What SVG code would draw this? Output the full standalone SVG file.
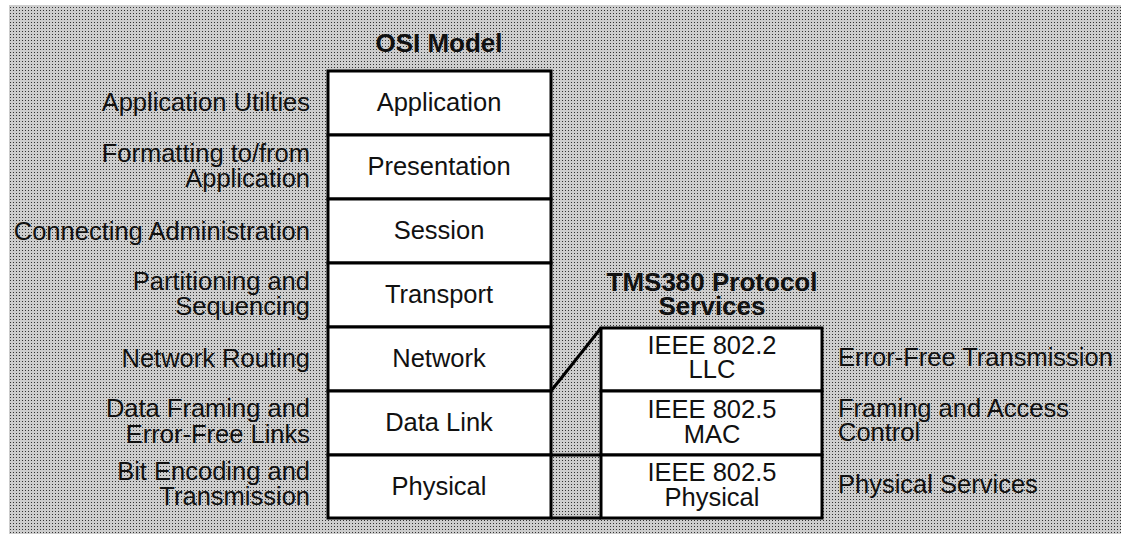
<svg xmlns="http://www.w3.org/2000/svg" width="1128" height="537" viewBox="0 0 1128 537">
<defs>
<pattern id="dots" width="3" height="3" patternUnits="userSpaceOnUse">
<rect width="3" height="3" fill="#cdcdcd"/>
<rect x="1" y="1" width="1" height="1" fill="#333"/>
</pattern>
</defs>
<style>
.box{fill:#fff;stroke:#000;stroke-width:3}
.ln{fill:none;stroke:#000;stroke-width:3}
text{font-family:"Liberation Sans",Arial,sans-serif;font-size:25.5px;fill:#111}
.c{text-anchor:middle}
.r{text-anchor:end}
.h{font-weight:bold;font-size:26px}
</style>
<rect x="9" y="5" width="1112" height="529" fill="url(#dots)"/>
<text class="c h" x="439" y="52">OSI Model</text>
<text class="c h" x="712" y="291">TMS380 Protocol</text>
<text class="c h" x="712" y="315">Services</text>
<g id="connectors">
<path class="ln" d="M551 391 L601 328"/>
<path class="ln" d="M551 455 H601"/>
<path class="ln" d="M551 518 H601"/>
</g>
<g id="osi-application"><rect class="box" x="328" y="71" width="223" height="64"/><text class="c" x="439" y="111">Application</text></g>
<g id="osi-presentation"><rect class="box" x="328" y="135" width="223" height="64"/><text class="c" x="439" y="175">Presentation</text></g>
<g id="osi-session"><rect class="box" x="328" y="199" width="223" height="64"/><text class="c" x="439" y="239">Session</text></g>
<g id="osi-transport"><rect class="box" x="328" y="263" width="223" height="64"/><text class="c" x="439" y="303">Transport</text></g>
<g id="osi-network"><rect class="box" x="328" y="327" width="223" height="64"/><text class="c" x="439" y="367">Network</text></g>
<g id="osi-datalink"><rect class="box" x="328" y="391" width="223" height="64"/><text class="c" x="439" y="431">Data Link</text></g>
<g id="osi-physical"><rect class="box" x="328" y="455" width="223" height="63"/><text class="c" x="439" y="495">Physical</text></g>
<g id="tms-llc"><rect class="box" x="601" y="328" width="221" height="63"/><text class="c" x="712" y="354">IEEE 802.2</text><text class="c" x="712" y="378">LLC</text></g>
<g id="tms-mac"><rect class="box" x="601" y="391" width="221" height="64"/><text class="c" x="712" y="418">IEEE 802.5</text><text class="c" x="712" y="443">MAC</text></g>
<g id="tms-phy"><rect class="box" x="601" y="455" width="221" height="63"/><text class="c" x="712" y="481">IEEE 802.5</text><text class="c" x="712" y="506">Physical</text></g>
<g id="left-labels">
<text class="r" x="310" y="111">Application Utilties</text>
<text class="r" x="310" y="162">Formatting to/from</text>
<text class="r" x="310" y="187">Application</text>
<text class="r" x="310" y="240">Connecting Administration</text>
<text class="r" x="310" y="290">Partitioning and</text>
<text class="r" x="310" y="315">Sequencing</text>
<text class="r" x="310" y="367">Network Routing</text>
<text class="r" x="310" y="417">Data Framing and</text>
<text class="r" x="310" y="443">Error-Free Links</text>
<text class="r" x="310" y="480">Bit Encoding and</text>
<text class="r" x="310" y="505">Transmission</text>
</g>
<g id="right-labels">
<text x="838" y="366">Error-Free Transmission</text>
<text x="838" y="417">Framing and Access</text>
<text x="838" y="441">Control</text>
<text x="838" y="493">Physical Services</text>
</g>
</svg>
